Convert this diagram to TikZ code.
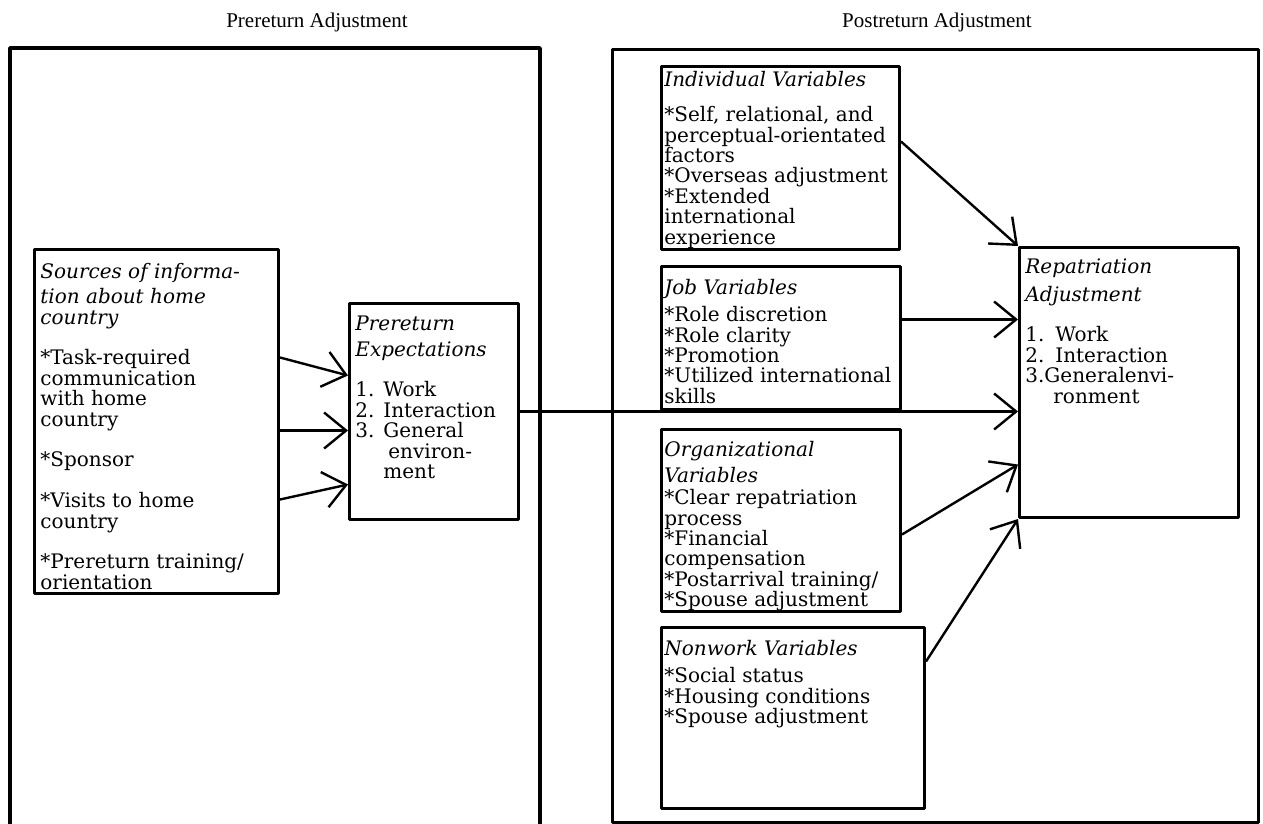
\documentclass[tikz,border=0pt]{standalone}
\usepackage{fontspec}
\setmainfont{DejaVu Serif}
\newfontfamily\titlefont{Liberation Serif}
\usetikzlibrary{arrows.meta}
\newcommand{\bodyfont}{\fontsize{10}{10.2}\selectfont}

\tikzset{
  frame/.style={draw,line width=1.7pt},
  varbox/.style={draw,line width=1.5pt,anchor=north west,inner sep=0pt},
  boxtext/.style={anchor=north west,inner sep=0pt,align=left,font=\bodyfont},
  heading/.style={font=\titlefont\fontsize{10.5}{12}\selectfont,inner sep=0pt},
  arr/.style={line width=1.2pt,-{Straight Barb[length=11pt,width=18pt]}}
}

\begin{document}
\begin{tikzpicture}[x=0.5pt,y=-0.5pt,line join=round]
\useasboundingbox (0,0) rectangle (1263,824);

% the two phases
\node[heading] (pretitle) at (317,22) {Prereturn Adjustment};
\node[heading] (posttitle) at (937,22) {Postreturn Adjustment};
\draw[frame] (10,824)--(10,48)--(540,48)--(540,824);
\node[frame,anchor=north west,inner sep=0pt,minimum width=323pt,minimum height=386.5pt] (postframe) at (611,48) {};

% boxes
\node[varbox,minimum width=122pt,minimum height=172pt] (src) at (33,248) {};
\node[varbox,minimum width=84.5pt,minimum height=108pt] (exp) at (348,302) {};
\node[varbox,minimum width=119pt,minimum height=91.5pt] (ind) at (660,65) {};
\node[varbox,minimum width=119.5pt,minimum height=71.5pt] (job) at (660,265) {};
\node[varbox,minimum width=119.5pt,minimum height=91pt] (org) at (660,428) {};
\node[varbox,minimum width=131.5pt,minimum height=90.5pt] (non) at (660,626) {};
\node[varbox,minimum width=109.5pt,minimum height=135pt] (rep) at (1018,246) {};

% texts
\node[boxtext] (srctext) at ([shift={(7,14.7)}]src.north west)
  {\strut\textit{Sources of informa-}\\[1pt]\textit{tion about home}\\\textit{country}\\[10.2pt]
   *Task-required\\communication\\with home\\country\\[10.2pt]
   *Sponsor\\[10.2pt]
   *Visits to home\\country\\[10.2pt]
   *Prereturn training/\\orientation};
\node[boxtext] (exptext) at ([shift={(7,13.7)}]exp.north west)
  {\strut\textit{Prereturn}\\[1.3pt]\textit{Expectations}\\[10.2pt]
   \makebox[14pt][l]{1.}Work\\
   \makebox[14pt][l]{2.}Interaction\\
   \makebox[14pt][l]{3.}General\\
   \hspace*{16.5pt}environ-\\
   \hspace*{14pt}ment};
\node[boxtext] (indtext) at ([shift={(4,5.7)}]ind.north west)
  {\strut\textit{Individual Variables}\\[6pt]
   *Self, relational, and\\perceptual-orientated\\factors\\
   *Overseas adjustment\\*Extended\\international\\experience};
\node[boxtext] (jobtext) at ([shift={(4,13.7)}]job.north west)
  {\strut\textit{Job Variables}\\[2pt]
   *Role discretion\\*Role clarity\\*Promotion\\
   *Utilized international\\skills};
\node[boxtext] (orgtext) at ([shift={(4,12.7)}]org.north west)
  {\strut\textit{Organizational}\\[1.3pt]\textit{Variables}\\[1pt]
   *Clear repatriation\\process\\*Financial\\compensation\\
   *Postarrival training/\\*Spouse adjustment};
\node[boxtext] (nontext) at ([shift={(4,13.7)}]non.north west)
  {\strut\textit{Nonwork Variables}\\[2pt]
   *Social status\\*Housing conditions\\*Spouse adjustment};
\node[boxtext] (reptext) at ([shift={(7,12.7)}]rep.north west)
  {\strut\textit{Repatriation}\\[2pt]\textit{Adjustment}\\[10.2pt]
   \makebox[15pt][l]{1.}Work\\
   \makebox[15pt][l]{2.}Interaction\\
   3.Generalenvi-\\
   \hspace*{14pt}ronment};

% arrows
\draw[arr] ([yshift=32pt]src.east)--([yshift=18pt]exp.west);
\draw[arr] ([yshift=-4.5pt]src.east)--([yshift=-9.5pt]exp.west);
\draw[arr] ([yshift=-39pt]src.east)--([yshift=-36.5pt]exp.west);
\draw[arr] (exp.east)--(exp.east -| rep.west);
\draw[arr] ([yshift=8.25pt]ind.east)--(rep.north west);
\draw[arr] ([yshift=9.25pt]job.east)--([yshift=9.25pt]job.east -| rep.west);
\draw[arr] ([yshift=-7pt]org.east)--([yshift=-41pt]rep.west);
\draw[arr] ([yshift=28.25pt]non.east)--(rep.south west);
\end{tikzpicture}
\end{document}
